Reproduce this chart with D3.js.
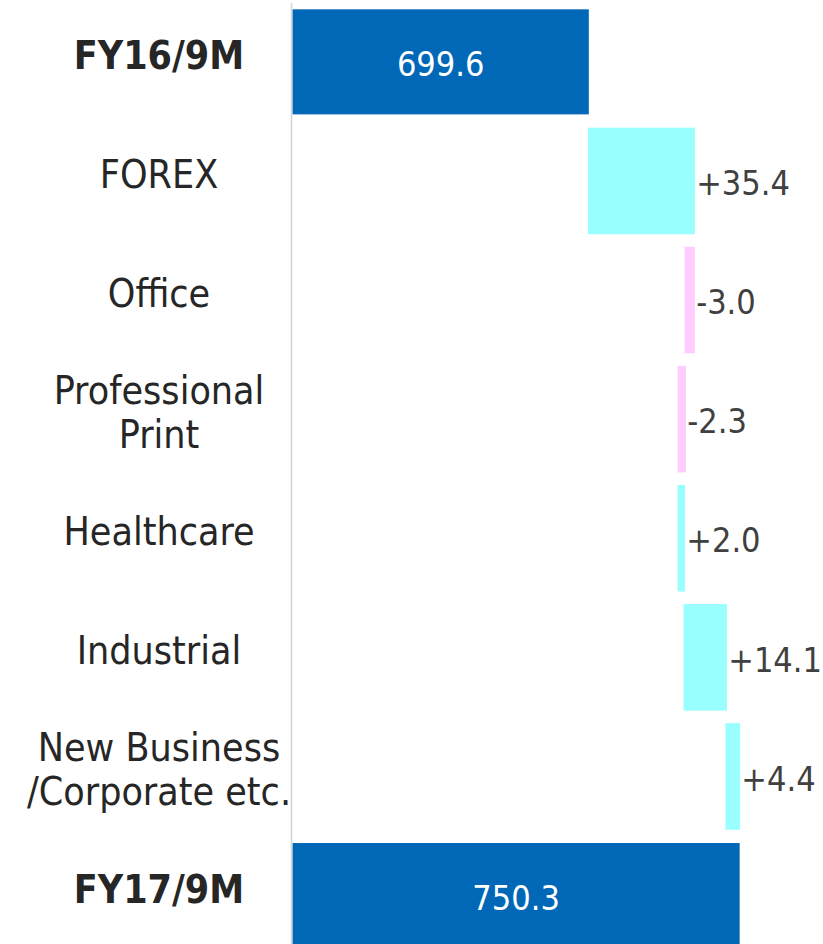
<!DOCTYPE html>
<html>
<head>
<meta charset="utf-8">
<script src="https://cdn.jsdelivr.net/npm/d3@7"></script>
<style>
  html, body { margin: 0; padding: 0; background: #fff; }
  svg text { font-family: "DejaVu Sans", Verdana, sans-serif; font-stretch: condensed; }
</style>
</head>
<body>
<div id="chart"></div>
<script>
// waterfall: FY16/9M -> FY17/9M
var categories = [
  ["FY16/9M"],
  ["FOREX"],
  ["Office"],
  ["Professional", "Print"],
  ["Healthcare"],
  ["Industrial"],
  ["New Business", "/Corporate etc."],
  ["FY17/9M"]
];
var startTotal = 699.6;
var changes = [35.4, -3.0, -2.3, 2.0, 14.1, 4.4];
var endTotal = 750.3;
var xDomain = [600, 780];

var width = 823;
var height = 944;
var axis_x = 292.5;
var dark_blue = '#0068b7';
var up_color = '#99ffff';
var down_color = '#ffccff';

var fmt = d3.formatLocale({decimal: ".", thousands: ",", grouping: [3], currency: ["", ""], minus: "-"});
var fmtChange = fmt.format("+.1f");
var fmtTotal = fmt.format(".1f");

// build rows
var rows = [];
rows.push({i: 0, lines: categories[0], x0: xDomain[0], x1: startTotal, kind: 'total', value: startTotal});
var run = startTotal;
changes.forEach(function (c, k) {
  var from = run;
  run = run + c;
  rows.push({i: k + 1, lines: categories[k + 1], x0: Math.min(from, run), x1: Math.max(from, run),
    kind: c >= 0 ? 'up' : 'down', value: c});
});
rows.push({i: 7, lines: categories[7], x0: xDomain[0], x1: endTotal, kind: 'total', value: endTotal});

var svg = d3.select('#chart')
  .append('svg')
  .attr('width', width)
  .attr('height', height);

var x = d3.scaleLinear().domain(xDomain).range([axis_x, 828]);
var y = d3.scaleBand()
  .domain(d3.range(categories.length))
  .range([2.3, 955.1])
  .paddingInner(0.118)
  .paddingOuter(0.059);

// bars
svg.selectAll('.bar')
  .data(rows)
  .enter()
  .append('rect')
  .attr('class', 'bar')
  .attr('x', function (d) {return x(d.x0);})
  .attr('y', function (d) {return y(d.i);})
  .attr('width', function (d) {return x(d.x1) - x(d.x0);})
  .attr('height', y.bandwidth())
  .attr('fill', function (d) {
    return d.kind == 'total' ? dark_blue : (d.kind == 'up' ? up_color : down_color);
  })
  .attr('stroke', function (d) {
    return d.kind == 'total' ? 'none' : (d.kind == 'up' ? up_color : down_color);
  })
  .attr('stroke-width', 1.5);

// vertical axis line
svg.append('line')
  .attr('x1', axis_x - 1).attr('x2', axis_x - 1)
  .attr('y1', 3).attr('y2', height)
  .attr('stroke', '#d4d4d4')
  .attr('stroke-width', 1.5);

// category labels
var cat = svg.selectAll('.cat')
  .data(rows)
  .enter()
  .append('text')
  .attr('class', 'cat')
  .attr('text-anchor', 'middle')
  .attr('font-size', 39)
  .attr('font-weight', function (d) {return d.kind == 'total' ? 'bold' : 'normal';})
  .attr('fill', '#262626');

cat.each(function (d) {
  var t = d3.select(this);
  var lh = 44;
  var cy = y(d.i) + y.bandwidth() / 2 - 7;
  var top = cy - (d.lines.length - 1) * lh / 2;
  d.lines.forEach(function (l, j) {
    t.append('tspan')
      .attr('x', 159)
      .attr('y', top + j * lh)
      .attr('dy', '0.36em')
      .text(l);
  });
});

// value labels
svg.selectAll('.val')
  .data(rows)
  .enter()
  .append('text')
  .attr('class', 'val')
  .attr('font-size', 34)
  .attr('dy', '0.36em')
  .attr('y', function (d) {return y(d.i) + y.bandwidth() / 2 + 2;})
  .attr('x', function (d) {
    return d.kind == 'total' ? (x(d.x0) + x(d.x1)) / 2 : x(d.x1) + 2;
  })
  .attr('text-anchor', function (d) {return d.kind == 'total' ? 'middle' : 'start';})
  .attr('fill', function (d) {return d.kind == 'total' ? '#ffffff' : '#404040';})
  .text(function (d) {return d.kind == 'total' ? fmtTotal(d.value) : fmtChange(d.value);});
</script>
</body>
</html>
